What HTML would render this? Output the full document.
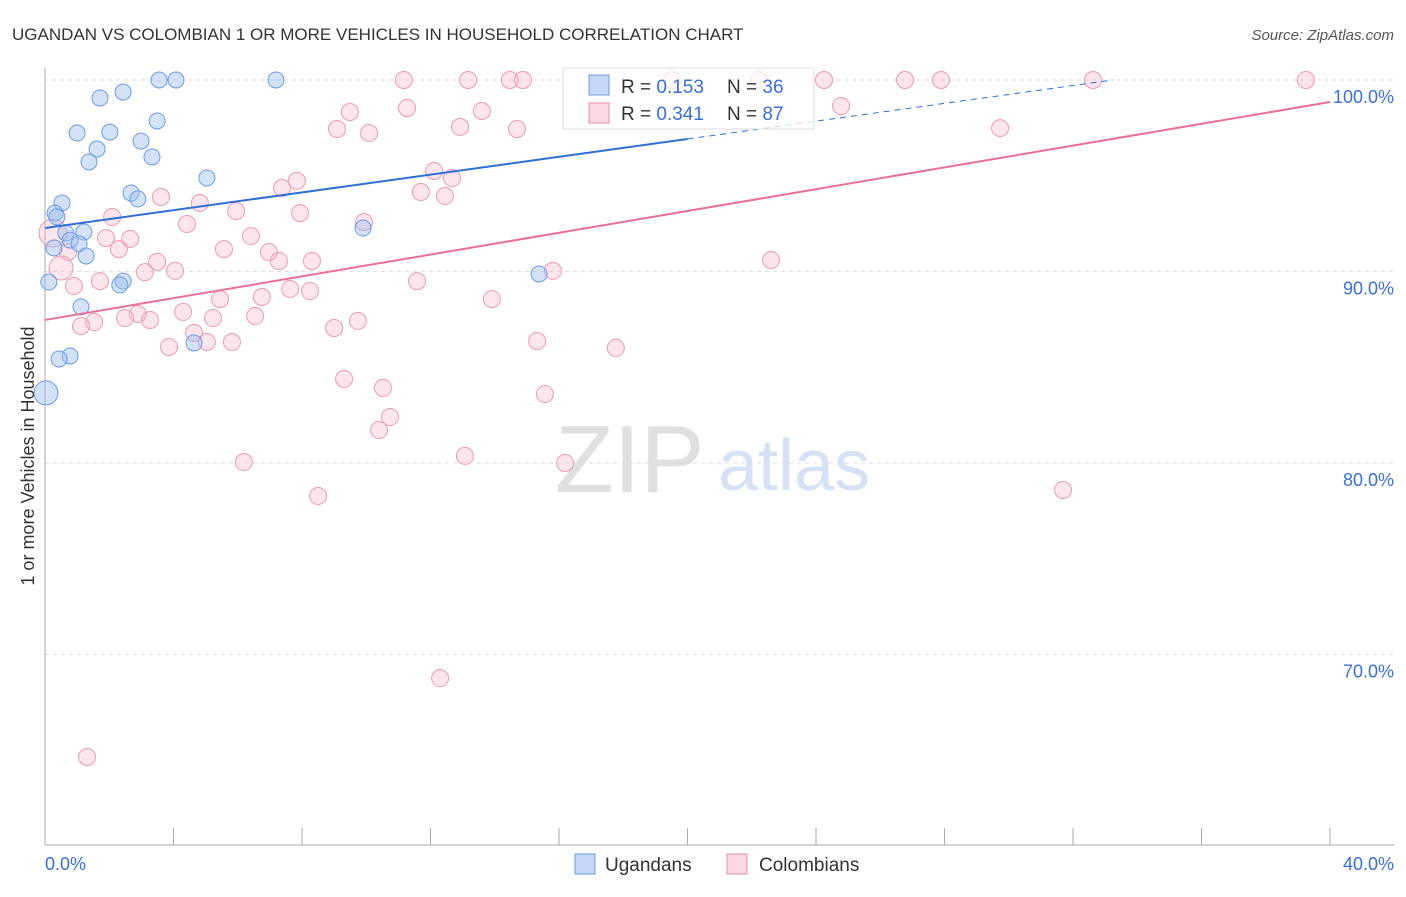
<!DOCTYPE html>
<html><head><meta charset="utf-8"><style>
body{margin:0;background:#fff;font-family:"Liberation Sans",sans-serif}
svg text{font-family:"Liberation Sans",sans-serif}
</style></head><body>
<svg width="1406" height="892" viewBox="0 0 1406 892">
<text x="12" y="40" font-size="17" fill="#333">UGANDAN VS COLOMBIAN 1 OR MORE VEHICLES IN HOUSEHOLD CORRELATION CHART</text>
<text x="1394" y="40" font-size="15" fill="#555" text-anchor="end" font-style="italic">Source: ZipAtlas.com</text>
<g id="grid"></g>
<text x="555" y="492" font-size="96" fill="#e0e0e0" font-family="Liberation Serif">ZIP</text>
<text x="718" y="490" font-size="72" fill="#d6e2f3">atlas</text>
<g id="marks"></g>
<text x="34" y="456" font-size="18" fill="#333" text-anchor="middle" transform="rotate(-90 34 456)">1 or more Vehicles in Household</text>
<text x="45" y="870" font-size="18" fill="#3a6fd8">0.0%</text>
<text x="1394" y="870" font-size="18" fill="#3a6fd8" text-anchor="end">40.0%</text>
<g>
<rect x="563" y="68" width="251" height="61" fill="rgba(255,255,255,0.75)" stroke="#ddd"/>
<rect x="589" y="75" width="20" height="20" fill="rgba(160,190,240,0.6)" stroke="#6d9be0"/>
<rect x="589" y="103" width="20" height="20" fill="rgba(245,180,200,0.5)" stroke="#e88aa8"/>
<text x="621" y="93" font-size="19" fill="#333">R = <tspan fill="#3a6fd8">0.153</tspan></text>
<text x="727" y="93" font-size="19" fill="#333">N = <tspan fill="#3a6fd8">36</tspan></text>
<text x="621" y="120" font-size="19" fill="#333">R = <tspan fill="#3a6fd8">0.341</tspan></text>
<text x="727" y="120" font-size="19" fill="#333">N = <tspan fill="#3a6fd8">87</tspan></text>
</g>
<g>
<rect x="575" y="854" width="20" height="20" fill="rgba(160,190,240,0.6)" stroke="#6d9be0"/>
<text x="605" y="871" font-size="19" fill="#333">Ugandans</text>
<rect x="727" y="854" width="20" height="20" fill="rgba(245,180,200,0.5)" stroke="#e88aa8"/>
<text x="759" y="871" font-size="19" fill="#333">Colombians</text>
</g>
</svg>
<script>
const yTicks=[100,90,80,70];
const yTickLabels=["100.0%","90.0%","80.0%","70.0%"];
const xTicks=[0,4,8,12,16,20,24,28,32,36,40];
const ugX=[3.55,4.08,7.19,2.43,1.71,3.49,1.00,2.02,2.99,1.62,3.33,1.37,5.04,2.68,2.89,0.53,0.31,0.37,1.21,0.65,0.78,1.06,0.28,1.28,9.90,0.12,2.43,2.33,1.12,15.38,0.78,0.44,4.64,0.03];
const ugY=[100,100,100,99.37,99.06,97.86,97.23,97.28,96.81,96.40,95.98,95.72,94.88,94.10,93.79,93.58,93.05,92.85,92.06,92.01,91.64,91.44,91.23,90.81,92.27,89.45,89.50,89.30,88.15,89.87,85.59,85.43,86.27,83.66];
const coX=[11.17,13.17,14.47,14.88,19.52,22.23,24.25,26.77,27.89,32.62,39.25,11.27,13.60,9.49,24.78,9.09,10.09,12.92,14.69,29.73,7.38,7.84,12.11,11.70,12.67,12.45,3.61,4.82,5.95,7.94,2.09,4.42,9.93,0.25,6.41,1.90,2.65,5.57,2.30,0.72,6.97,7.28,8.31,0.50,3.49,3.11,4.05,22.60,15.81,1.71,0.90,11.58,7.63,8.25,6.75,5.45,13.91,4.30,2.89,6.54,2.49,5.23,3.27,1.53,1.12,9.74,9.00,4.64,3.86,5.04,5.82,15.32,17.77,9.31,10.52,15.56,10.74,10.40,13.07,6.19,16.19,8.50,31.69,12.30,1.31];
const coY=[100,100,100,100,100,100,100,100,100,100,100,98.54,98.38,98.33,98.64,97.44,97.23,97.55,97.44,97.49,94.36,94.73,95.25,94.15,94.88,93.94,93.89,93.58,93.16,93.05,92.85,92.48,92.58,92.01,91.85,91.75,91.70,91.17,91.17,91.02,91.02,90.55,90.55,90.18,90.50,89.97,90.03,90.60,90.03,89.50,89.24,89.50,89.09,88.98,88.67,88.56,88.56,87.89,87.78,87.68,87.57,87.57,87.47,87.36,87.15,87.42,87.05,86.79,86.06,86.32,86.32,86.37,86.01,84.39,83.92,83.60,82.40,81.72,80.37,80.05,80.00,78.28,78.59,68.77,64.65];
const ugTrend=[92.27,0.2325];
const coTrend=[87.47,0.2845];
const NS="http://www.w3.org/2000/svg";
const X=v=>45+v*32.125, Y=v=>80+(100-v)*19.15;
function mk(t,a,p){const e=document.createElementNS(NS,t);for(const k in a)e.setAttribute(k,a[k]);p.appendChild(e);return e;}
const grid=document.getElementById('grid'),marks=document.getElementById('marks');
yTicks.forEach((t,i)=>{
 const l=mk('line',{x1:45,x2:1394,y1:Y(t),y2:Y(t),stroke:'#ddd','stroke-dasharray':'4,4'},grid);
 
 
 const tx=mk('text',{x:1394,y:Y(t)+23,'font-size':18,fill:'#3a6fd8','text-anchor':'end'},grid);
 tx.textContent=yTickLabels[i];
 
 
});
const ax=mk('line',{x1:45,x2:45,y1:68,y2:845,stroke:'#aaa'},grid);


const bx=mk('line',{x1:45,x2:1394,y1:845,y2:845,stroke:'#aaa'},grid);


xTicks.forEach(t=>{const l=mk('line',{x1:X(t),x2:X(t),y1:828,y2:845,stroke:'#aaa'},grid);
 
 });
coX.forEach((x,i)=>{const r=(i==33)?14:(i==43?12:8.5);
 const c=mk('circle',{cx:X(x),cy:Y(coY[i]),r:r,fill:'rgba(245,180,200,0.35)',stroke:'#ea9ab4','stroke-width':1},marks);
 
 });
ugX.forEach((x,i)=>{const r=(i==33)?12:8;
 const c=mk('circle',{cx:X(x),cy:Y(ugY[i]),r:r,fill:'rgba(160,190,240,0.45)',stroke:'#6d9be0','stroke-width':1},marks);
 
 });
let l=mk('line',{x1:X(0),y1:Y(ugTrend[0]),x2:X(20),y2:Y(ugTrend[0]+20*ugTrend[1]),stroke:'#2f6fd6','stroke-width':2},marks);


const xe=(100-ugTrend[0])/ugTrend[1];
l=mk('line',{x1:X(20),y1:Y(ugTrend[0]+20*ugTrend[1]),x2:X(xe),y2:Y(100),stroke:'#2f6fd6','stroke-width':1,'stroke-dasharray':'6,5'},marks);


l=mk('line',{x1:X(0),y1:Y(coTrend[0]),x2:X(40),y2:Y(coTrend[0]+40*coTrend[1]),stroke:'#e8709a','stroke-width':2},marks);


</script>
</body></html>
